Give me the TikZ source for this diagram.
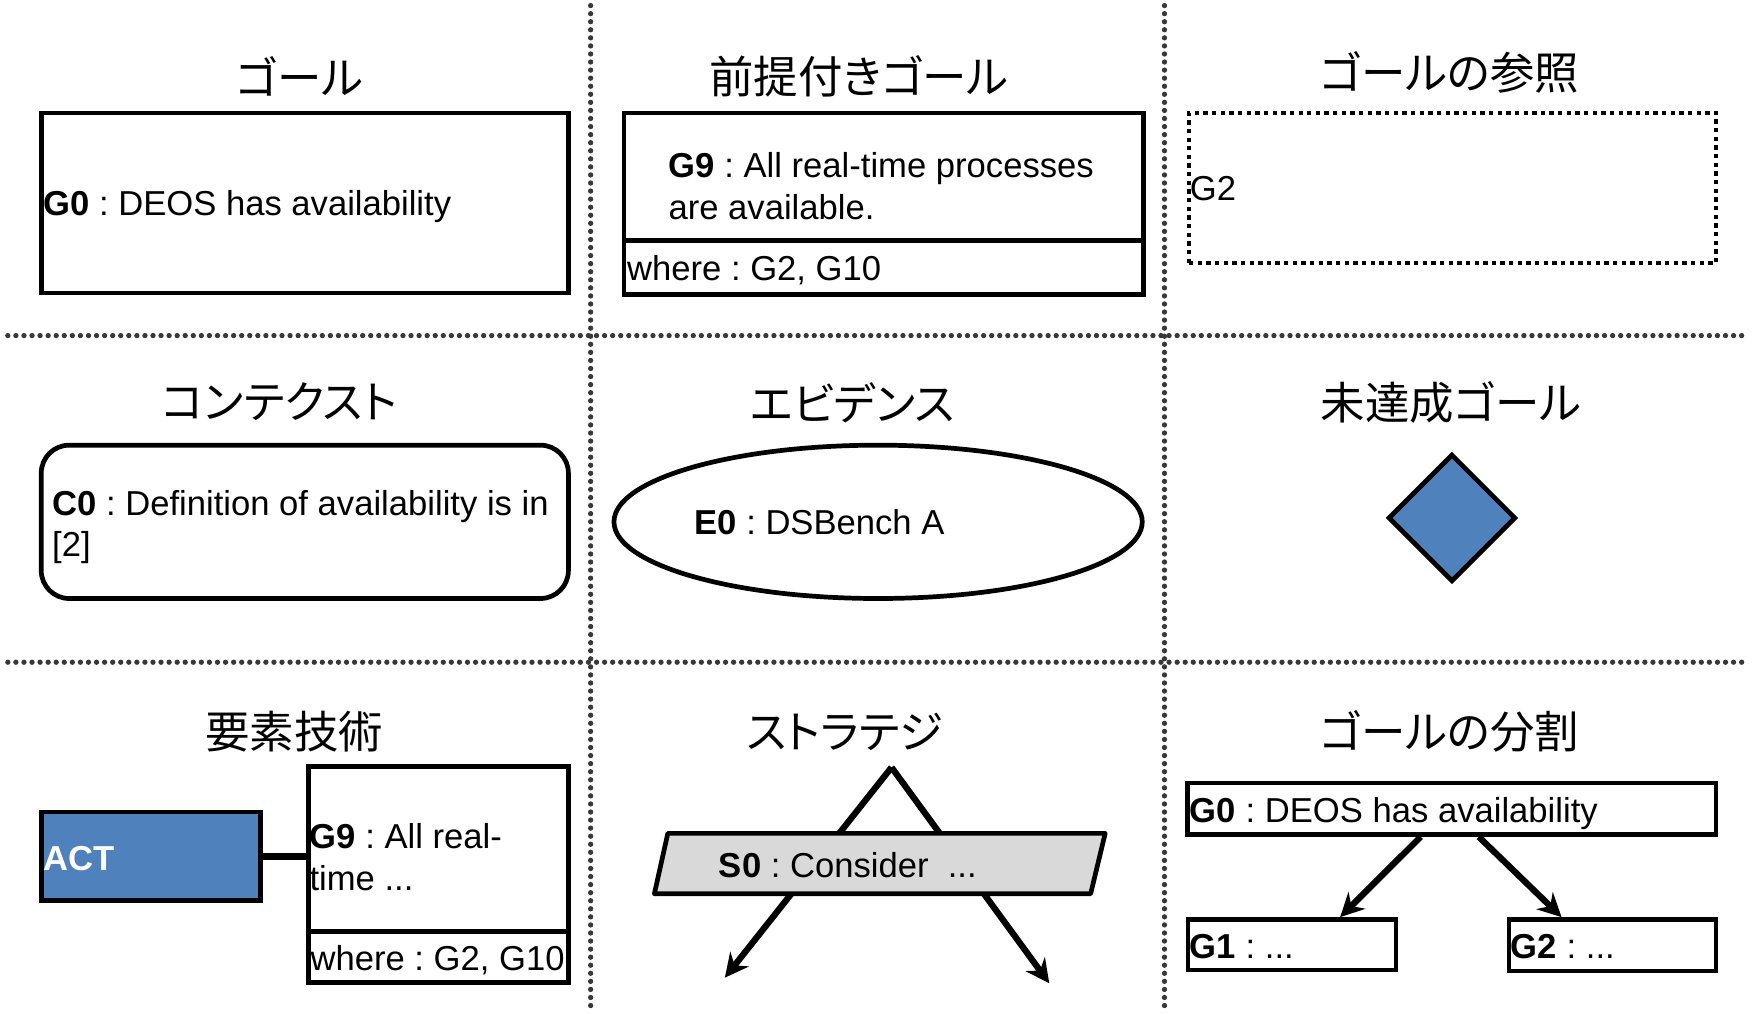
\documentclass[tikz,border=0pt]{standalone}
\usepackage{fontspec}
\setmainfont{Liberation Sans}
\newfontfamily\jpfont[RawFeature=+palt]{Noto Sans CJK JP}
\usetikzlibrary{arrows.meta,shapes.geometric}
\definecolor{gsnblue}{HTML}{4F81BD}
\definecolor{gsngray}{HTML}{D9D9D9}
\definecolor{divcol}{HTML}{383838}
\frenchspacing
\begin{document}
\begin{tikzpicture}[x=0.01cm,y=-0.01cm,
  divider/.style={draw=divcol,line width=1.35pt,dash pattern=on 0pt off 2.05pt,line cap=round},
  box/.style={draw,line width=1.2pt,inner sep=0pt},
  refbox/.style={draw,line width=1.2pt,dash pattern=on 1.1pt off 1.1pt,inner sep=0pt},
  title/.style={font=\jpfont\fontsize{11.3pt}{13pt}\selectfont,inner sep=0pt},
  txt/.style={font=\fontsize{8.8pt}{10.5pt}\selectfont,inner sep=0pt,anchor=base west},
  mtxt/.style={font=\fontsize{8.8pt}{10.6pt}\selectfont,inner sep=0pt,anchor=north west,align=left},
  arr/.style={line width=1.6pt,-{Stealth[length=6pt,width=6pt,inset=2pt]}},
  link/.style={line width=1.7pt}
]
\useasboundingbox (0,0) rectangle (1568,906);

% dividers
\draw[divider] (528,5) -- (528,906);
\draw[divider] (1041,5) -- (1041,906);
\draw[divider] (7,300) -- (1560,300);
\draw[divider] (7,592) -- (1560,592);

% titles
\node[title] (t1) at (268,68) {ゴール};
\node[title] (t2) at (768,68) {前提付きゴール};
\node[title] (t3) at (1296,65) {ゴールの参照};
\node[title] (t4) at (250,359) {コンテクスト};
\node[title] (t5) at (762,360) {エビデンス};
\node[title] (t6) at (1297,360) {未達成ゴール};
\node[title] (t7) at (263,654) {要素技術};
\node[title] (t8) at (755,654) {ストラテジ};
\node[title] (t9) at (1296,654) {ゴールの分割};

% goal
\node[box,minimum width=4.71cm,minimum height=1.61cm] (goal) at (272.5,181.5) {};
\node[txt] (goaltxt) at (38,193) {\textbf{G0} : DEOS has availability};

% goal with assumption
\node[box,minimum width=4.64cm,minimum height=1.14cm] (ag) at (790,158) {};
\node[box,minimum width=4.64cm,minimum height=0.48cm] (agw) at (790,239) {};
\node[mtxt] (agtxt) at (597,135.5) {\textbf{G9} : All real-time processes\\are available.};
\node[txt] (agwtxt) at (560,251) {where : G2, G10};

% goal reference
\node[refbox,minimum width=4.71cm,minimum height=1.34cm] (ref) at (1298.5,168) {};
\node[txt] (reftxt) at (1063,179) {G2};

% context
\node[box,rounded corners=0.25cm,minimum width=4.71cm,minimum height=1.37cm] (ctx) at (272.5,466.5) {};
\node[mtxt] (ctxtxt) at (46,437.5) {\textbf{C0} : Definition of availability is in\\{}[2]};

% evidence
\node[box,ellipse,minimum width=4.72cm,minimum height=1.37cm] (ev) at (785,466.5) {};
\node[txt] (evtxt) at (620,478) {\textbf{E0} : DSBench A};

% undeveloped goal
\node[box,diamond,aspect=1,fill=gsnblue,minimum width=1.14cm,minimum height=1.14cm] (ud) at (1298,463) {};

% element technology
\node[box,fill=gsnblue,minimum width=1.96cm,minimum height=0.79cm] (act) at (135,765.5) {};
\node[txt,text=white,font=\fontsize{8.8pt}{10.5pt}\selectfont\bfseries] (acttxt) at (38,778) {ACT};
\node[box,minimum width=2.32cm,minimum height=1.48cm] (eg) at (392,759) {};
\node[box,minimum width=2.32cm,minimum height=0.45cm] (egw) at (392,855.5) {};
\draw[link] (act.east) -- (act.east -| eg.west);
\node[mtxt] (egtxt) at (276,735.5) {\textbf{G9} : All real-\\time ...};
\node[txt] (egwtxt) at (277,868) {where : G2, G10};

% strategy
\coordinate (apex) at (797,686);
\coordinate (sl) at (648,874);
\coordinate (sr) at (938,879);
\draw[arr] (apex) -- (sl);
\draw[arr] (apex) -- (sr);
\coordinate (ptl) at (597,745);
\coordinate (ptr) at (988,745);
\coordinate (pbr) at (975,799);
\coordinate (pbl) at (585,799);
\draw[line width=1.2pt,fill=gsngray,line join=round] (ptl) -- (ptr) -- (pbr) -- (pbl) -- cycle;
\node[txt] (stxt) at (642,784) {\textbf{S0} : Consider\ \ ...};

% goal decomposition
\node[box,minimum width=4.72cm,minimum height=0.46cm] (dg0) at (1298,723) {};
\node[box,minimum width=1.86cm,minimum height=0.45cm] (dg1) at (1155,844.5) {};
\node[box,minimum width=1.85cm,minimum height=0.46cm] (dg2) at (1441.5,845) {};
\node[txt] (dg0txt) at (1063,735) {\textbf{G0} : DEOS has availability};
\node[txt] (dg1txt) at (1063,857) {\textbf{G1} : ...};
\node[txt] (dg2txt) at (1350,857) {\textbf{G2} : ...};
\draw[arr] ([xshift=-0.28cm]dg0.south) -- ([xshift=0.43cm]dg1.north);
\draw[arr] ([xshift=0.24cm]dg0.south) -- ([xshift=-0.455cm]dg2.north);
\end{tikzpicture}
\end{document}
